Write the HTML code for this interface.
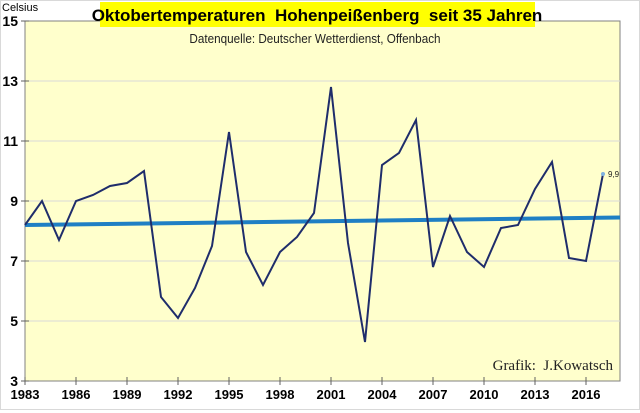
<!DOCTYPE html>
<html><head><meta charset="utf-8"><style>
body{margin:0;background:#fff;width:640px;height:413px;overflow:hidden;font-family:"Liberation Sans",Arial,sans-serif}
svg{display:block}
</style></head><body>
<svg id="c" width="640" height="413">
<rect x="0.5" y="0.5" width="639" height="409" fill="#fff" stroke="#d9d9d9"/>
<rect x="25" y="21" width="595" height="360" fill="#ffffcc" stroke="#808080" stroke-width="1"/>
<rect x="100" y="2" width="435" height="25" fill="#ffff00"/>
<text x="317" y="21" text-anchor="middle" font-size="17" font-weight="bold" fill="#000">Oktobertemperaturen&#160; Hohenpeißenberg&#160; seit 35 Jahren</text>
<text x="315" y="43" text-anchor="middle" font-size="13" fill="#222" transform="translate(315,0) scale(0.9,1) translate(-315,0)">Datenquelle: Deutscher Wetterdienst, Offenbach</text>
<text x="2" y="11" font-size="11" fill="#000">Celsius</text>
<text x="613" y="370" text-anchor="end" font-family="Liberation Serif,serif" font-size="15" fill="#222">Grafik:&#160; J.Kowatsch</text>
<g id="ax"></g><g id="marks"></g>
</svg>
<script>
const years=[1983,1984,1985,1986,1987,1988,1989,1990,1991,1992,1993,1994,1995,1996,1997,1998,1999,2000,2001,2002,2003,2004,2005,2006,2007,2008,2009,2010,2011,2012,2013,2014,2015,2016,2017];
const temps=[8.2,9.0,7.7,9.0,9.2,9.5,9.6,10.0,5.8,5.1,6.1,7.5,11.3,7.3,6.2,7.3,7.8,8.6,12.8,7.6,4.3,10.2,10.6,11.7,6.8,8.5,7.3,6.8,8.1,8.2,9.4,10.3,7.1,7.0,9.9];
const yTicks=[3,5,7,9,11,13,15];
const xTicks=[1983,1986,1989,1992,1995,1998,2001,2004,2007,2010,2013,2016];
const trendStart=8.2, trendEnd=8.45;
const lastLabel="9,9";
const NS="http://www.w3.org/2000/svg";
const L=25,R=620,T=21,B=381;
const x=v=>L+(v-1983)/(2018-1983)*(R-L);
const y=v=>B-(v-3)/(15-3)*(B-T);
const ax=document.getElementById('ax'),mk=document.getElementById('marks');
function mkEl(t,a,p){const e=document.createElementNS(NS,t);for(const k in a)e.setAttribute(k,a[k]);p.appendChild(e);return e;}
yTicks.forEach(v=>{
 if(v>3&&v<15){const g=mkEl('line',{x1:L,x2:R,y1:y(v),y2:y(v),stroke:'#d8d8d8','stroke-width':1},ax);
 
 }
 const tk=mkEl('line',{x1:L-4,x2:L+4,y1:y(v),y2:y(v),stroke:'#606060'},ax);
 
 
 const t=mkEl('text',{x:L-7,y:y(v)+5,'text-anchor':'end','font-size':14,'font-weight':'bold'},ax);t.textContent=v;
 
 
});
xTicks.forEach(v=>{
 const tk=mkEl('line',{x1:x(v),x2:x(v),y1:B-4,y2:B+4,stroke:'#606060'},ax);
 
 
 const t=mkEl('text',{x:x(v),y:B+18,'text-anchor':'middle','font-size':13,'font-weight':'bold'},ax);t.textContent=v;
 
 
});
const tr=mkEl('line',{x1:L,y1:y(trendStart),x2:R,y2:y(trendEnd),stroke:'#1f7fc4','stroke-width':4},mk);


const pl=mkEl('polyline',{points:years.map((yr,i)=>x(yr)+','+y(temps[i])).join(' '),fill:'none',stroke:'#1f2d6b','stroke-width':2},mk);


const n=years.length-1;
const pt=mkEl('circle',{cx:x(years[n]),cy:y(temps[n]),r:2,fill:'#7fb3e0'},mk);


const lb=mkEl('text',{x:x(years[n])+5,y:y(temps[n])+3,'font-size':8,fill:'#222'},mk);lb.textContent=lastLabel;


</script>
</body></html>
